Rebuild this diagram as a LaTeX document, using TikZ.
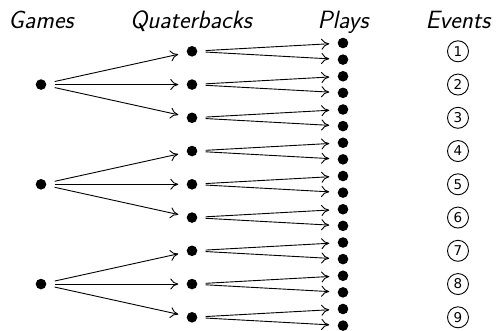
\documentclass[tikz,border=0pt]{standalone}
\usepackage{fontspec}
\newfontfamily\numfont{DejaVu Sans}
\usetikzlibrary{arrows.meta}
\tikzset{
  dot/.style={rectangle, minimum width=27pt, minimum height=12pt, inner sep=0pt,
    path picture={\fill (path picture bounding box.center) circle (5.3pt);}},
  arr/.style={line width=0.9pt, -{To[length=8pt,width=11pt]}},
  ev/.style={circle, draw, line width=0.9pt, minimum size=21pt, inner sep=0pt,
    font=\numfont\fontsize{13.5}{13.5}\selectfont},
  title/.style={anchor=base, font=\sffamily\itshape\fontsize{25}{30}\selectfont}
}
\begin{document}
\begin{tikzpicture}[x=1pt, y=-1pt]
\useasboundingbox (0,0) rectangle (496,330);
\node[title] (tg) at (41,28) {Games};
\node[title] (tq) at (191,28) {Quaterbacks};
\node[title] (tp) at (343,28) {Plays};
\node[title] (te) at (458,28) {Events};
\foreach \k in {1,...,9} {
  \pgfmathsetmacro\yy{51.3+33.25*(\k-1)}
  \node[dot] (q\k) at (192,\yy) {};
  \node[dot] (pa\k) at (343,\yy-8.3) {};
  \node[dot] (pb\k) at (343,\yy+8.3) {};
  \node[ev] (e\k) at (458,\yy) {\k};
  \draw[arr] (q\k) -- (pa\k);
  \draw[arr] (q\k) -- (pb\k);
}
\foreach \g/\a/\b/\c in {1/1/2/3, 2/4/5/6, 3/7/8/9} {
  \node[dot] (g\g) at (41,{51.3+33.25*(\b-1)}) {};
  \draw[arr] (g\g) -- (q\a);
  \draw[arr] (g\g) -- (q\b);
  \draw[arr] (g\g) -- (q\c);
}
\end{tikzpicture}
\end{document}
